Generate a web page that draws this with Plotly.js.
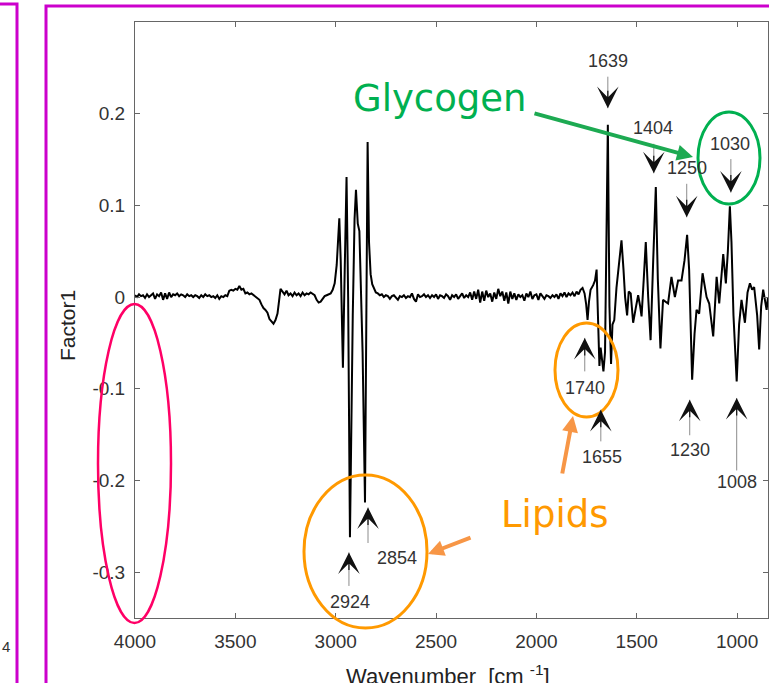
<!DOCTYPE html>
<html><head><meta charset="utf-8">
<script src="https://cdn.plot.ly/plotly-3.0.1.min.js"></script>
<style>html,body{margin:0;padding:0;background:#fff;overflow:hidden}#chart{width:769px;height:683px}</style>
</head><body><div id="chart"></div>
<script>
// ---------- DATA ----------
const wavenumber = [
4000,3990,3980,3970,3960,3950,3940,3930,3920,3910,3900,3890,3880,3870,3860,3850,3840,3830,3820,3810,
3800,3790,3780,3770,3760,3750,3740,3730,3720,3710,3700,3690,3680,3670,3660,3650,3640,3630,3620,3610,
3600,3590,3580,3570,3560,3550,3540,3530,3520,3510,3500,3490,3480,3470,3460,3450,3440,3430,3420,3410,
3400,3390,3380,3370,3360,3350,3340,3330,3320,3310,3300,3290,3282,3275,3265,3255,3245,3235,3225,3215,
3205,3195,3185,3175,3165,3155,3145,3135,3125,3115,3105,3095,3085,3075,3065,3055,3045,3035,3025,3015,
3005,2995,2988,2982,2975,2964,2955,2946,2938,2929,2915,2906,2899,2890,2882,2875,2866,2854,2848,2841,
2834,2826,2818,2810,2800,
2790,2780,2770,2760,2750,2740,2730,2720,2710,2700,2690,2680,2670,2660,2650,2640,2630,2620,2610,2600,
2590,2580,2570,2560,2550,2540,2530,2520,2510,2500,2490,2480,2470,2460,2450,2440,2430,2420,2410,2400,
2390,2380,2370,2360,2350,2340,2330,2320,2310,2300,2290,2280,2270,2260,2250,2240,2230,2220,2210,2200,
2190,2180,2170,2160,2150,2140,2130,2120,2110,2100,2090,2080,2070,2060,2050,2040,2030,2020,2010,2000,
1990,1980,1970,1960,1950,1940,1930,1920,1910,1900,1890,1880,1870,1860,1850,1840,1830,1820,1810,1800,
1790,1780,1770,
1760,1752,1745,1738,1730,1717,1708,1700,1692,1686,1680,1674,1666,1658,1651,1644,1636,1628,1621,1612,
1601,1588,1576,1566,1558,1548,1540,1530,1518,1505,1493,1483,1476,1465,1455,1443,1431,1418,1405,1395,
1382,1369,1344,1327,1310,1294,1277,1262,1249,1239,1224,1212,1202,1189,1172,1152,1139,1119,1102,1089,
1069,1056,1046,1036,1028,1018,1002,990,978,961,948,936,925,915,900,890,880,870,860,853,846
];
const factor1 = [
0.002,0.000,0.003,0.001,0.002,-0.001,0.003,0.000,0.002,0.004,-0.002,0.003,0.001,0.005,-0.003,0.004,-0.002,0.005,0.000,0.003,
0.002,0.004,0.001,0.003,0.002,0.000,0.003,0.001,0.002,0.000,0.002,0.001,-0.001,0.002,0.000,0.003,0.001,0.002,0.000,0.001,
-0.001,0.002,-0.002,0.001,0.000,0.002,0.001,0.007,0.008,0.007,0.009,0.008,0.012,0.008,0.009,0.004,0.005,0.003,0.004,0.002,
0.001,-0.002,-0.003,-0.008,-0.012,-0.014,-0.017,-0.024,-0.027,-0.029,-0.025,-0.018,-0.004,0.009,0.006,0.003,0.007,0.002,0.004,0.001,
0.005,0.002,0.004,0.001,0.005,0.002,0.004,0.003,0.005,0.003,0.002,-0.003,-0.006,-0.005,-0.002,0.001,0.002,0.003,0.004,0.008,
0.015,0.035,0.060,0.086,0.040,-0.077,0.030,0.131,0.000,-0.262,-0.020,0.085,0.117,0.080,0.072,0.020,-0.060,-0.224,-0.040,0.169,
0.060,0.025,0.014,0.009,0.005,
0.004,0.002,0.003,0.000,0.002,0.001,-0.002,0.001,0.002,0.000,-0.003,0.001,0.000,0.002,-0.001,0.001,0.000,0.004,-0.002,-0.005,
0.003,0.000,0.001,0.003,0.000,0.002,-0.001,0.002,0.000,0.003,-0.002,0.002,0.001,-0.001,0.003,0.001,-0.003,0.002,0.000,0.003,
-0.002,0.001,0.004,-0.001,0.002,0.000,0.005,-0.003,0.006,-0.002,0.008,-0.006,0.006,-0.004,0.007,0.000,0.004,-0.005,0.005,-0.002,
0.009,0.001,0.006,-0.004,0.005,-0.007,0.006,-0.002,0.004,-0.003,0.003,0.000,0.002,-0.004,0.004,0.000,0.006,-0.002,0.002,0.003,
-0.003,0.004,0.001,-0.002,0.002,0.001,-0.001,0.002,0.000,0.003,-0.002,0.004,0.001,0.005,0.000,0.004,0.002,0.005,0.001,0.006,
0.003,0.008,0.010,
0.004,-0.008,-0.025,-0.005,0.008,0.013,0.018,0.030,-0.040,-0.075,-0.055,-0.070,-0.081,-0.060,0.040,0.188,-0.010,-0.073,-0.030,-0.025,
0.010,0.035,0.062,0.030,0.000,-0.020,0.006,0.004,-0.028,-0.012,0.002,-0.010,-0.021,0.020,0.060,0.000,-0.047,0.040,0.120,0.020,
-0.056,-0.003,-0.007,0.022,0.000,0.018,0.018,0.040,0.068,0.030,-0.090,-0.040,-0.014,-0.018,0.026,0.000,-0.007,-0.043,0.022,-0.007,
0.047,0.015,0.050,0.099,0.060,-0.020,-0.092,-0.030,-0.003,-0.028,0.005,0.015,0.008,0.011,-0.020,-0.057,-0.010,0.008,-0.005,-0.014,0.000
];
const xTickVals = [1000,1500,2000,2500,3000,3500,4000];
const xTickText = ['1000','1500','2000','2500','3000','3500','4000'];
const yTickVals = [-0.3,-0.2,-0.1,0,0.1,0.2];
const yTickText = ['-0.3','-0.2','-0.1','0','0.1','0.2'];
const peakLabels = ['1639','1404','1250','1030','2924','2854','1740','1655','1230','1008'];
const peakWavenumber = [1644,1415,1251,1031,2934,2839,1759,1679,1236,1002];
const peakValue = [0.206,0.135,0.087,0.114,-0.2785,-0.2295,-0.0445,-0.123,-0.112,-0.110];

// ---------- LAYOUT HELPERS ----------
const PL=135, PT=22, PW=633, PH=596;
const px = x => (x-PL)/PW;
const py = y => (PT+PH-y)/PH;
// per-peak arrow geometry (pixels): tail offset, label offset
const peakGeom = [
  {tail:-33, tx:0,  ty:-47},
  {tail:-31, tx:-1, ty:-45},
  {tail:-35, tx:0,  ty:-49},
  {tail:-35, tx:-1, ty:-49},
  {tail:35,  tx:1,  ty:50},
  {tail:37,  tx:29, ty:50},
  {tail:35,  tx:0,  ty:50},
  {tail:33,  tx:1,  ty:47},
  {tail:37,  tx:0,  ty:50},
  {tail:74,  tx:0,  ty:84}
];
const annotations = [];
peakLabels.forEach((lab,i)=>{
  const g = peakGeom[i];
  const w = peakWavenumber[i], v = peakValue[i];
  annotations.push({x:w,y:v,xref:'x',yref:'y',text:'',showarrow:true,ax:0,ay:g.tail,axref:'pixel',ayref:'pixel',
    arrowhead:0,arrowwidth:1,arrowcolor:'#8c8c8c'});
  annotations.push({x:w,y:v,xref:'x',yref:'y',text:'',showarrow:true,ax:0,ay:Math.sign(g.tail)*19,axref:'pixel',ayref:'pixel',
    arrowhead:3,arrowsize:3,arrowwidth:1.2,arrowcolor:'#111'});
  annotations.push({x:w,y:v,xref:'x',yref:'y',text:lab,showarrow:false,xshift:g.tx,yshift:-g.ty,
    xanchor:'center',yanchor:'middle',
    font:{family:'Liberation Sans, Arial, sans-serif',size:18,color:'#333'}});
});
// titles
annotations.push({x:px(448),y:py(659),xref:'paper',yref:'paper',xanchor:'center',yanchor:'top',showarrow:false,
  text:'Wavenumber  [cm <sup>-1</sup>]',font:{family:'Liberation Sans, Arial, sans-serif',size:22,color:'#222'}});
annotations.push({x:px(68),y:py(326),xref:'paper',yref:'paper',xanchor:'center',yanchor:'middle',showarrow:false,textangle:-90,
  text:'Factor1',font:{family:'Liberation Sans, Arial, sans-serif',size:21,color:'#222'}});
// call-outs
annotations.push({x:px(440),y:py(98),xref:'paper',yref:'paper',xanchor:'center',yanchor:'middle',showarrow:false,text:'Glycogen',
  font:{family:'Comic Sans MS, DejaVu Sans, sans-serif',size:37,color:'#00B050'}});
annotations.push({x:px(554),y:py(514),xref:'paper',yref:'paper',xanchor:'center',yanchor:'middle',showarrow:false,text:'Lipids',
  font:{family:'Comic Sans MS, DejaVu Sans, sans-serif',size:37,color:'#FF9900'}});
annotations.push({x:px(693),y:py(157),xref:'paper',yref:'paper',text:'',showarrow:true,ax:-160,ay:-44,axref:'pixel',ayref:'pixel',
  arrowhead:2,arrowsize:0.8,arrowwidth:4,arrowcolor:'#1DAA52'});
annotations.push({x:px(428),y:py(554),xref:'paper',yref:'paper',text:'',showarrow:true,ax:44,ay:-17,axref:'pixel',ayref:'pixel',
  arrowhead:2,arrowsize:0.8,arrowwidth:4,arrowcolor:'#F79646'});
annotations.push({x:px(573),y:py(416),xref:'paper',yref:'paper',text:'',showarrow:true,ax:-11,ay:59,axref:'pixel',ayref:'pixel',
  arrowhead:2,arrowsize:0.8,arrowwidth:4,arrowcolor:'#F79646'});
annotations.push({x:px(6),y:py(646),xref:'paper',yref:'paper',xanchor:'center',yanchor:'middle',showarrow:false,text:'4',
  font:{family:'Liberation Sans, Arial, sans-serif',size:15,color:'#333'}});

const ell = (x0,y0,x1,y1,color,w)=>({type:'circle',xref:'paper',yref:'paper',x0:px(x0),x1:px(x1),y0:py(y1),y1:py(y0),
  line:{color:color,width:w},fillcolor:'rgba(0,0,0,0)',layer:'above'});
const rect = (x0,y0,x1,y1,color,w)=>({type:'rect',xref:'paper',yref:'paper',x0:px(x0),x1:px(x1),y0:py(y1),y1:py(y0),
  line:{color:color,width:w},fillcolor:'rgba(0,0,0,0)',layer:'above'});
const shapes = [
  rect(-30,4,17,720,'#CC00CC',3),
  rect(46,6,820,720,'#CC00CC',3),
  ell(98,304,171,623,'#FF0066',2.5),
  ell(304,475,427,628,'#FF9900',3),
  ell(555,323,618,417,'#FF9900',3),
  ell(698,112,760,204,'#00B050',3)
];

const tickFont = {family:'Liberation Sans, Arial, sans-serif',size:19,color:'#333'};
const layout = {
  width:769,height:683,
  margin:{l:PL,r:769-PL-PW,t:PT,b:683-PT-PH,pad:0},
  paper_bgcolor:'#fff',plot_bgcolor:'#fff',
  showlegend:false,
  xaxis:{range:[4000,846],autorange:false,tickvals:xTickVals,ticktext:xTickText,ticks:'inside',ticklen:5,tickcolor:'#666',
    showline:true,linecolor:'#666',linewidth:1,mirror:'ticks',showgrid:false,zeroline:false,tickfont:tickFont,ticklabelstandoff:6},
  yaxis:{range:[-0.35,0.30],autorange:false,tickvals:yTickVals,ticktext:yTickText,ticks:'inside',ticklen:5,tickcolor:'#666',
    showline:true,linecolor:'#666',linewidth:1,mirror:'ticks',showgrid:false,zeroline:false,tickfont:tickFont,ticklabelstandoff:5},
  annotations:annotations,
  shapes:shapes
};
const trace = {x:wavenumber,y:factor1,type:'scatter',mode:'lines',line:{color:'#000',width:2},hoverinfo:'skip'};
Plotly.newPlot('chart',[trace],layout,{staticPlot:true,displayModeBar:false});
</script>
</body></html>
